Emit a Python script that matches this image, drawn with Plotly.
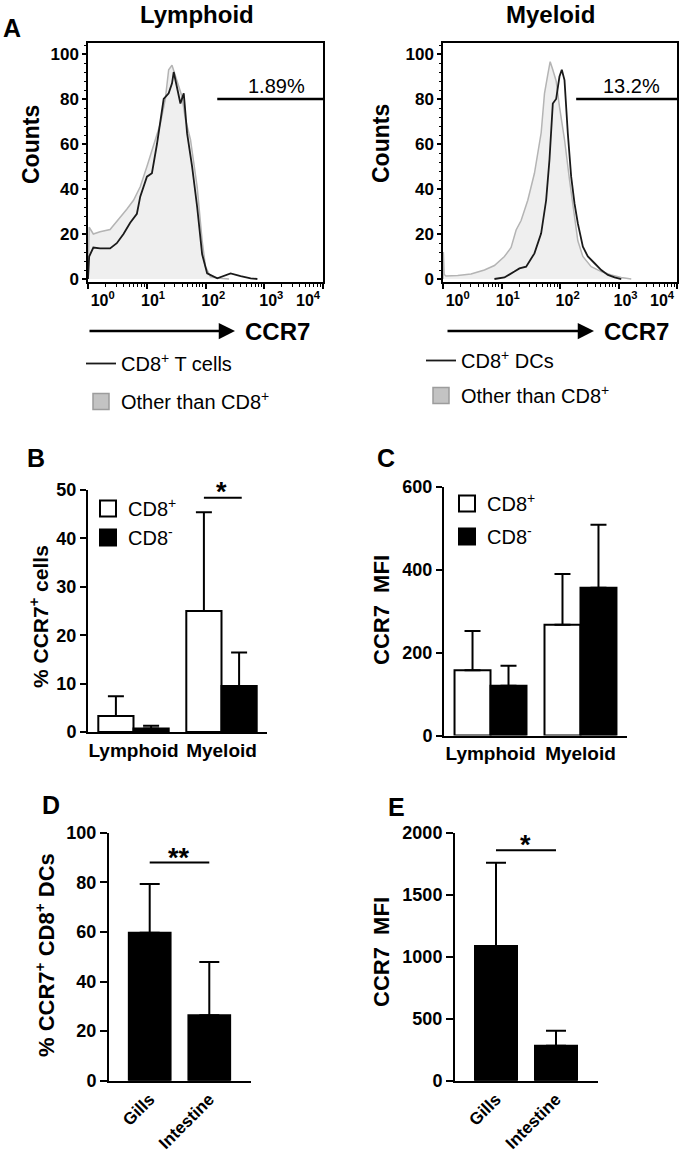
import plotly.graph_objects as go

W, H = 688, 1154
FONT = "Liberation Sans, Arial, Helvetica, sans-serif"

# ---------------- DATA ----------------
# Panel A: histogram overlays (CCR7 fluorescence vs counts, % of max)
lym_other_ccr7 = [1.0, 1.047, 1.233, 1.603, 2.377, 3.09, 4.018, 4.571, 5.957, 7.745,
                  10.07, 13.09, 17.02, 20.7, 23.6, 26.9, 30.7, 35.0, 39.9, 45.5,
                  55.5, 72.1, 87.7, 100, 121.6, 180.3, 251]
lym_other_counts = [0, 23, 20, 21, 22, 25.5, 29, 31, 35, 41,
                    50, 59, 69, 80, 93, 95, 90, 85, 81, 71,
                    62, 41, 17, 5.5, 1, 0.3, 0]
lym_cd8_ccr7 = [1.0, 1.047, 1.233, 1.603, 2.377, 3.09, 4.018, 5.224, 6.792, 7.745,
                10.07, 12.25, 14.93, 19.41, 23.6, 26.92, 28.77, 32.81, 37.41, 42.66,
                48.64, 59.16, 72.11, 87.7, 106.7, 158.5, 267.3, 396.3, 587.5, 763.8]
lym_cd8_counts = [0, 10, 14, 13.6, 13.6, 15.9, 20, 25, 29, 36.6,
                  45.5, 47, 60, 80, 82.5, 87, 92, 85, 78, 82.5,
                  64.7, 50, 32, 11, 2.5, 0.3, 2.5, 1.3, 0.3, 0]
mye_other_ccr7 = [1.0, 1.014, 1.047, 1.125, 1.782, 3.013, 5.105, 7.568, 11.22, 14.59,
                  17.78, 21.63, 28.12, 36.56, 47.64, 54.33, 61.94, 67.92, 75.34, 85.9,
                  97.95, 119.4, 145.5, 177, 201.8, 246, 341.2, 507, 751.6, 1114, 1652]
mye_other_counts = [0, 12, 2, 1.3, 1.6, 2.2, 4, 6, 10, 14,
                    21.8, 26, 35, 47, 65, 82.5, 91, 96.6, 93, 88,
                    76.6, 62, 44, 29, 17, 10, 5.5, 3.3, 1.8, 0.7, 0]
mye_cd8_ccr7 = [7.568, 11.22, 16.63, 20.28, 26.36, 36.56, 47.64, 57.94, 66.07, 75.34,
                85.9, 97.95, 107.4, 119.4, 136.1, 155.2, 177, 201.8, 246, 299.2,
                389.9, 507, 659.2, 857, 1114]
mye_cd8_counts = [0, 0.7, 3.3, 4.7, 5.5, 11.4, 20.3, 35, 53, 78,
                  80, 90, 93, 88.4, 64.7, 45.5, 33.6, 24.7, 14.4, 10,
                  7, 4, 1.8, 0.7, 0]

# CCR7+ gates
gate_level = 80
lym_gate_ccr7 = [158.5, 10000]
mye_gate_ccr7 = [189, 10000]
lym_gate_label = "1.89%"
mye_gate_label = "13.2%"
gate_label_log = [3.2, 3.23]      # label position (log10 CCR7)
gate_label_count = 86

# log-axis labels
decade_vals = [1, 10, 100, 1000, 10000]
decade_text = ["10<sup>0</sup>", "10<sup>1</sup>", "10<sup>2</sup>", "10<sup>3</sup>", "10<sup>4</sup>"]
decade_label_pos = [1.78, 12.8, 135, 1320, 5560]
minor_vals = [m * d for d in [1, 10, 100, 1000] for m in range(2, 10)]
count_ticks = [0, 20, 40, 60, 80, 100]

# Panel B: % CCR7+ cells
groups = ["Lymphoid", "Myeloid"]
b_cd8pos = [3.3, 25.0]
b_cd8pos_err = [4.1, 20.4]
b_cd8neg = [0.7, 9.5]
b_cd8neg_err = [0.6, 6.9]
b_sig = dict(x0=0.8, x1=1.23, y=48.4, label="*", lx=1.0, ly=49.6)

# Panel C: CCR7 MFI
c_cd8pos = [157, 267]
c_cd8pos_err = [95, 122]
c_cd8neg = [120, 356]
c_cd8neg_err = [48, 152]

# Panel D / E: CD8+ DCs by tissue
tissues = ["Gills", "Intestine"]
d_vals = [59.7, 26.4]
d_err = [19.6, 21.5]
d_sig = dict(x0=0, x1=1, y=88, label="**", lx=0.5, ly=90.0)
e_vals = [1086, 282]
e_err = [672, 121]
e_sig = dict(x0=0, x1=1, y=1859, label="*", lx=0.5, ly=1900)


# ---------------- helpers ----------------
def px(v):
    return v / W


def py(v):
    return 1 - v / H


def dom_x(a, b):
    return [a / W, b / W]


def dom_y(top, bottom):
    return [1 - bottom / H, 1 - top / H]


def font(size, bold=False, color="black"):
    d = dict(family=FONT, size=size, color=color)
    if bold:
        d["weight"] = "bold"
    return d


fig = go.Figure()

# ---------------- Panel A traces ----------------
for (oc, ocnt, cc, ccnt, gate, xa, xt, ya, leg, cname) in [
    (lym_other_ccr7, lym_other_counts, lym_cd8_ccr7, lym_cd8_counts, lym_gate_ccr7,
     "x", "x2", "y", "legend", "CD8<sup>+</sup> T cells"),
    (mye_other_ccr7, mye_other_counts, mye_cd8_ccr7, mye_cd8_counts, mye_gate_ccr7,
     "x3", "x4", "y3", "legend2", "CD8<sup>+</sup> DCs"),
]:
    fig.add_trace(go.Scatter(x=oc, y=ocnt, mode="lines", fill="tozeroy",
                             fillcolor="#efefef", line=dict(color="#b4b4b4", width=1.5),
                             showlegend=False, xaxis=xa, yaxis=ya, hoverinfo="skip"))
    fig.add_trace(go.Scatter(x=gate, y=[gate_level, gate_level], mode="lines",
                             line=dict(color="black", width=2.5), showlegend=False,
                             xaxis=xt, yaxis=ya, hoverinfo="skip"))
    fig.add_trace(go.Scatter(x=cc, y=ccnt, mode="lines",
                             line=dict(color="#1a1a1a", width=1.8), name=cname,
                             legend=leg, legendgroup=leg + "a", xaxis=xt, yaxis=ya))
    fig.add_trace(go.Scatter(x=[None], y=[None], mode="markers",
                             marker=dict(symbol="square", size=16, color="#c3c3c3",
                                         line=dict(color="#9c9c9c", width=1.5)),
                             name="Other than CD8<sup>+</sup>", legend=leg,
                             legendgroup=leg + "b", xaxis=xa, yaxis=ya))

# ---------------- Panels B & C ----------------
for (pos, pos_err, neg, neg_err, xa, ya, leg, cap) in [
    (b_cd8pos, b_cd8pos_err, b_cd8neg, b_cd8neg_err, "x5", "y5", "legend3", 8),
    (c_cd8pos, c_cd8pos_err, c_cd8neg, c_cd8neg_err, "x6", "y6", "legend4", 8),
]:
    fig.add_trace(go.Bar(x=groups, y=pos, width=0.4, offset=-0.4,
                         marker=dict(color="white", line=dict(color="black", width=2)),
                         error_y=dict(type="data", array=pos_err, arrayminus=[0, 0],
                                      symmetric=False, color="black", thickness=2, width=cap),
                         showlegend=False, xaxis=xa, yaxis=ya))
    fig.add_trace(go.Bar(x=groups, y=neg, width=0.4, offset=0.0,
                         marker=dict(color="black", line=dict(color="black", width=2)),
                         error_y=dict(type="data", array=neg_err, arrayminus=[0, 0],
                                      symmetric=False, color="black", thickness=2, width=cap),
                         showlegend=False, xaxis=xa, yaxis=ya))
    fig.add_trace(go.Scatter(x=[None], y=[None], mode="markers",
                             marker=dict(symbol="square", size=16, color="white",
                                         line=dict(color="black", width=2)),
                             name="CD8<sup>+</sup>", legend=leg, legendgroup=leg + "a",
                             xaxis=xa, yaxis=ya))
    fig.add_trace(go.Scatter(x=[None], y=[None], mode="markers",
                             marker=dict(symbol="square", size=16, color="black",
                                         line=dict(color="black", width=2)),
                             name="CD8<sup>-</sup>", legend=leg, legendgroup=leg + "b",
                             xaxis=xa, yaxis=ya))

# ---------------- Panels D & E ----------------
for (vals, err, xa, ya) in [(d_vals, d_err, "x7", "y7"), (e_vals, e_err, "x8", "y8")]:
    fig.add_trace(go.Bar(x=tissues, y=vals, width=0.7,
                         marker=dict(color="black", line=dict(color="black", width=2)),
                         error_y=dict(type="data", array=err, arrayminus=[0, 0],
                                      symmetric=False, color="black", thickness=2, width=10),
                         showlegend=False, xaxis=xa, yaxis=ya))

# ---------------- Axes ----------------
def hist_y(dom):
    return dict(domain=dom, range=[-1.33, 104.9], tickvals=count_ticks, ticks="outside",
                ticklen=4, tickwidth=1.5, tickcolor="black", showline=True, linewidth=1.5,
                linecolor="black", mirror=True, showgrid=False, zeroline=False,
                tickfont=font(17, True), automargin=False,
                minor=dict(dtick=4, ticks="outside", ticklen=2.5, tickwidth=1, tickcolor="black"))


def hist_x_labels(dom, anchor):
    return dict(domain=dom, type="log", range=[0, 4], tickvals=decade_label_pos,
                ticktext=decade_text, ticks="", showline=True, linewidth=1.5,
                linecolor="black", mirror=True, showgrid=False, zeroline=False,
                tickfont=font(16, True), ticklabelstandoff=3, anchor=anchor, automargin=False)


def hist_x_ticks(over, anchor):
    return dict(overlaying=over, anchor=anchor, type="log", range=[0, 4],
                tickvals=decade_vals, showticklabels=False, ticks="outside", ticklen=6,
                tickwidth=1.5, tickcolor="black", showline=False, showgrid=False,
                zeroline=False, automargin=False,
                minor=dict(tickmode="array", tickvals=minor_vals, ticks="outside",
                           ticklen=3.5, tickwidth=1, tickcolor="black"))


def bar_y(dom, rng, dtick, size, ticklen):
    return dict(domain=dom, range=rng, dtick=dtick, ticks="outside", ticklen=ticklen,
                tickwidth=2, tickcolor="black", showline=True, linewidth=2,
                linecolor="black", showgrid=False, zeroline=False, tickfont=font(size, True),
                automargin=False)


def bar_x(dom, anchor, rng, cats, angle=0, size=19):
    return dict(domain=dom, anchor=anchor, type="category", categoryorder="array",
                categoryarray=cats, range=rng, ticks="", showline=True, linewidth=2,
                linecolor="black", showgrid=False, zeroline=False, tickfont=font(size, True),
                tickangle=angle, automargin=False)


yA = dom_y(43, 282)
layout = dict(
    width=W, height=H, autosize=False,
    margin=dict(l=0, r=0, t=0, b=0, pad=0, autoexpand=False),
    paper_bgcolor="white", plot_bgcolor="white", showlegend=True,
    font=font(16),
    xaxis=hist_x_labels(dom_x(88, 323), "y"),
    xaxis2=hist_x_ticks("x", "y"),
    yaxis=dict(hist_y(yA), anchor="x"),
    xaxis3=hist_x_labels(dom_x(443, 677), "y3"),
    xaxis4=hist_x_ticks("x3", "y3"),
    yaxis3=dict(hist_y(yA), anchor="x3"),
    xaxis5=bar_x(dom_x(88, 267), "y5", [-0.517, 1.517], groups),
    yaxis5=dict(bar_y(dom_y(490, 732), [0, 50], 10, 18, 6), anchor="x5"),
    xaxis6=bar_x(dom_x(444, 627), "y6", [-0.517, 1.517], groups),
    yaxis6=dict(bar_y(dom_y(486.5, 735.5), [0, 600], 200, 18, 6), anchor="x6"),
    xaxis7=bar_x(dom_x(109, 251), "y7", [-0.683, 1.7], tissues, -45, 17),
    yaxis7=dict(bar_y(dom_y(832.7, 1080.7), [0, 100], 20, 18, 7), anchor="x7"),
    xaxis8=bar_x(dom_x(455, 598), "y8", [-0.683, 1.7], tissues, -45, 17),
    yaxis8=dict(bar_y(dom_y(832.7, 1080.7), [0, 2000], 500, 18, 7), anchor="x8"),
)

leg_common = dict(xanchor="left", yanchor="top", font=font(20), bgcolor="rgba(0,0,0,0)",
                  traceorder="grouped", itemwidth=30, borderwidth=0)
layout["legend"] = dict(leg_common, x=px(81), y=py(344), tracegroupgap=9)
layout["legend2"] = dict(leg_common, x=px(421), y=py(341), tracegroupgap=6)
layout["legend3"] = dict(leg_common, x=px(88), y=py(489), tracegroupgap=0)
layout["legend4"] = dict(leg_common, x=px(447), y=py(484), tracegroupgap=4)

fig.update_layout(**layout)

# ---------------- annotations ----------------
ann = []


def txt(x, y, text, size, bold=True, angle=0, xanchor="center"):
    ann.append(dict(x=px(x), y=py(y), xref="paper", yref="paper", text=text,
                    showarrow=False, font=font(size, bold), textangle=angle,
                    xanchor=xanchor, yanchor="middle"))


txt(197, 14, "Lymphoid", 24)
txt(550, 14, "Myeloid", 24)
for (lx, ly, letter) in [(12, 28, "A"), (36, 458, "B"), (386, 458, "C"), (51, 805, "D"), (396, 807, "E")]:
    txt(lx, ly, letter, 25)
txt(31, 144, "Counts", 23, angle=-90)
txt(381, 144, "Counts", 23, angle=-90)
txt(39, 617, "% CCR7<sup>+</sup> cells", 21, angle=-90)
txt(381, 610, "CCR7\u00a0 MFI", 22, angle=-90)
txt(45, 955, "% CCR7<sup>+</sup> CD8<sup>+</sup> DCs", 22, angle=-90)
txt(381, 952, "CCR7\u00a0 MFI", 22, angle=-90)
txt(277, 331, "CCR7", 24)
txt(636, 331, "CCR7", 24)

# axis arrows under the histograms
for (x_tip, x_tail) in [(235, 88), (594, 446)]:
    ann.append(dict(x=px(x_tip), y=py(331), xref="paper", yref="paper", text="",
                    showarrow=True, ax=x_tail - x_tip, ay=0, arrowhead=2, arrowsize=1.3,
                    arrowwidth=2.5, arrowcolor="black", standoff=0))

# gate labels
for (xa, ya, lab, lg) in [("x", "y", lym_gate_label, gate_label_log[0]),
                          ("x3", "y3", mye_gate_label, gate_label_log[1])]:
    ann.append(dict(x=lg, y=gate_label_count, xref=xa, yref=ya, text=lab, showarrow=False,
                    font=font(20), xanchor="center", yanchor="middle"))

# significance
shapes = []
for (sig, xa, ya) in [(b_sig, "x5", "y5"), (d_sig, "x7", "y7"), (e_sig, "x8", "y8")]:
    shapes.append(dict(type="line", xref=xa, yref=ya, x0=sig["x0"], x1=sig["x1"],
                       y0=sig["y"], y1=sig["y"], line=dict(color="black", width=2)))
    ann.append(dict(x=sig["lx"], y=sig["ly"], xref=xa, yref=ya, text=sig["label"],
                    showarrow=False, font=font(27, True), xanchor="center", yanchor="middle"))

fig.update_layout(annotations=ann, shapes=shapes)
fig.write_html("out.html", config={"displayModeBar": False},
               post_script="document.body.style.margin='0';document.body.style.overflow='hidden';")
